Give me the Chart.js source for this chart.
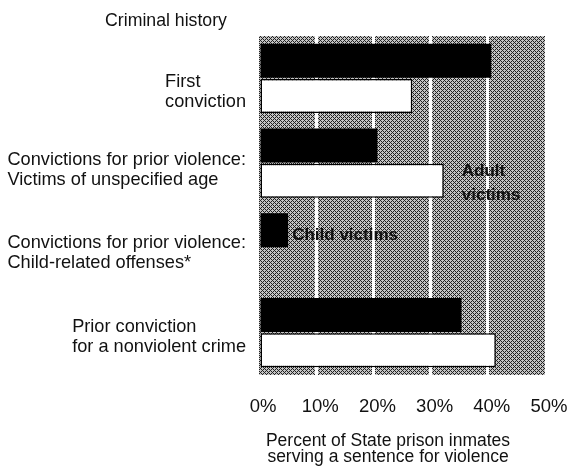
<!DOCTYPE html>
<html>
<head>
<meta charset="utf-8">
<script src="https://cdn.jsdelivr.net/npm/chart.js@4"></script>
<style>
  body { margin: 0; background: #fff; }
  canvas { display: block; }
</style>
</head>
<body>
<canvas id="chart" width="572" height="472"></canvas>
<script>
// Categories (top to bottom)
const categories = [
  ["First", "conviction"],
  ["Convictions for prior violence:", "Victims of unspecified age"],
  ["Convictions for prior violence:", "Child-related offenses*"],
  ["Prior conviction", "for a nonviolent crime"],
];
const childVictims = [40.6, 20.7, 5.1, 35.4];
const adultVictims = [26.8, 32.3, null, 41.4];
const xTicks = [0, 10, 20, 30, 40, 50];

const FONT = "'Liberation Sans', Arial, sans-serif";
// vertical nudge of each category label relative to its band centre
const labelNudge = [14, 7, 5, 4];

// stippled gray background like the printed screen
const pc = document.createElement("canvas");
pc.width = 4;
pc.height = 4;
const pctx = pc.getContext("2d");
pctx.fillStyle = "#c4c4c4";
pctx.fillRect(0, 0, 4, 4);
pctx.fillStyle = "#222";
for (let i = 0; i < 4; i++) {
  for (let j = 0; j < 4; j++) {
    if ((i + j) % 4 === 0 || (i - j + 4) % 4 === 0) pctx.fillRect(i, j, 1, 1);
  }
}

const ctx = document.getElementById("chart").getContext("2d");
const stipple = ctx.createPattern(pc, "repeat");

const decor = {
  id: "decor",
  beforeDraw(chart) {
    const a = chart.chartArea;
    const c = chart.ctx;
    c.save();
    c.fillStyle = stipple;
    c.fillRect(a.left, a.top, a.right - a.left, a.bottom - a.top);
    c.restore();
  },
  afterDraw(chart) {
    const c = chart.ctx;
    const y = chart.scales.y;
    c.save();
    c.fillStyle = "#111";
    c.textBaseline = "middle";

    // header
    c.font = "17.7px " + FONT;
    c.textAlign = "center";
    c.fillText("Criminal history", 166, 21);

    // category labels, lines left aligned, block right aligned
    c.font = "18.2px " + FONT;
    c.textAlign = "left";
    categories.forEach((lines, i) => {
      const w = Math.max(...lines.map((l) => c.measureText(l).width));
      const cy = y.getPixelForValue(i) + labelNudge[i];
      lines.forEach((l, k) => {
        c.fillText(l, 246 - w, cy + (k - (lines.length - 1) / 2) * 20);
      });
    });

    // x axis title
    c.font = "17.5px " + FONT;
    c.textAlign = "center";
    c.fillText("Percent of State prison inmates", 388, 441);
    c.fillText("serving a sentence for violence", 388, 457);

    // series annotations
    c.font = "bold 17px " + FONT;
    c.textAlign = "left";
    const childBar = chart.getDatasetMeta(0).data[2];
    c.fillText(chart.data.datasets[0].label, childBar.x + 4, childBar.y + 5);
    const adultBar = chart.getDatasetMeta(1).data[1];
    const words = chart.data.datasets[1].label.split(" ");
    c.fillText(words[0], adultBar.x + 18, adultBar.y - 9);
    c.fillText(words[1], adultBar.x + 18, adultBar.y + 15);
    c.restore();
  },
};

new Chart(ctx, {
  type: "bar",
  data: {
    labels: categories,
    datasets: [
      {
        label: "Child victims",
        data: childVictims,
        backgroundColor: "#000",
        borderColor: "#000",
        borderWidth: 0,
        categoryPercentage: 0.83,
        barPercentage: 0.97,
      },
      {
        label: "Adult victims",
        data: adultVictims,
        backgroundColor: "#fff",
        borderColor: "#000",
        borderWidth: 1.5,
        borderSkipped: false,
        categoryPercentage: 0.83,
        barPercentage: 0.97,
      },
    ],
  },
  options: {
    indexAxis: "y",
    responsive: false,
    animation: false,
    layout: { padding: { left: 259, top: 36, right: 27, bottom: 0 } },
    plugins: {
      legend: { display: false },
      tooltip: { enabled: false },
    },
    scales: {
      y: {
        display: false,
      },
      x: {
        min: 0,
        max: 50,
        afterBuildTicks: (scale) => {
          scale.ticks = xTicks.map((v) => ({ value: v }));
        },
        afterFit: (scale) => {
          scale.height = 97;
          scale.paddingLeft = 0;
          scale.paddingRight = 0;
        },
        border: { display: false },
        grid: {
          drawTicks: false,
          lineWidth: 3,
          color: (c) =>
            c.tick && (c.tick.value === 0 || c.tick.value === 50)
              ? "rgba(0,0,0,0)"
              : "#fff",
        },
        ticks: {
          padding: 21,
          labelOffset: 4,
          color: "#111",
          font: { family: FONT, size: 18.5 },
          callback: (v) => v + "%",
        },
      },
    },
  },
  plugins: [decor],
});
</script>
</body>
</html>
